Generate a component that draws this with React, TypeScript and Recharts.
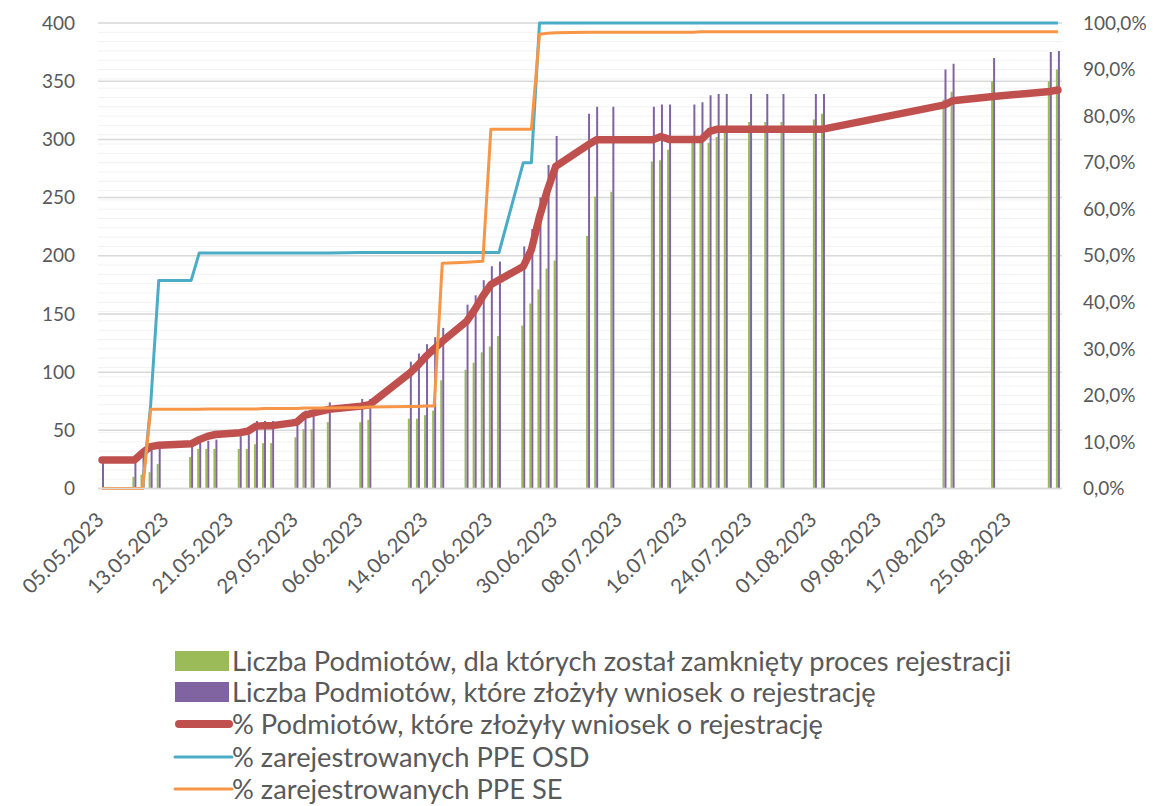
import React from 'react';
import { ComposedChart, Bar, Line, XAxis, YAxis, CartesianGrid } from 'recharts';

const AXIS_START = '05.05.2023';
const AXIS_END = '31.08.2023';

const TICK_LABELS = [
  '05.05.2023', '13.05.2023', '21.05.2023', '29.05.2023', '06.06.2023',
  '14.06.2023', '22.06.2023', '30.06.2023', '08.07.2023', '16.07.2023',
  '24.07.2023', '01.08.2023', '09.08.2023', '17.08.2023', '25.08.2023',
];

const DATES = [
  '05.05.2023', '09.05.2023', '10.05.2023', '11.05.2023', '12.05.2023',
  '16.05.2023', '17.05.2023', '18.05.2023', '19.05.2023', '22.05.2023',
  '23.05.2023', '24.05.2023', '25.05.2023', '26.05.2023', '29.05.2023',
  '30.05.2023', '31.05.2023', '02.06.2023', '06.06.2023', '07.06.2023',
  '12.06.2023', '13.06.2023', '14.06.2023', '15.06.2023', '16.06.2023',
  '19.06.2023', '20.06.2023', '21.06.2023', '22.06.2023', '23.06.2023',
  '26.06.2023', '27.06.2023', '28.06.2023', '29.06.2023', '30.06.2023',
  '04.07.2023', '05.07.2023', '07.07.2023', '12.07.2023', '13.07.2023',
  '14.07.2023', '17.07.2023', '18.07.2023', '19.07.2023', '20.07.2023',
  '21.07.2023', '24.07.2023', '26.07.2023', '28.07.2023', '01.08.2023',
  '02.08.2023', '17.08.2023', '18.08.2023', '23.08.2023', '30.08.2023',
  '31.08.2023',
];

// Liczba Podmiotów, dla których został zamknięty proces rejestracji
const CLOSED = [
  0, 10, 12, 14, 21, 27, 34, 34, 34, 34,
  34, 38, 39, 39, 44, 51, 51, 57, 57, 59,
  60, 60, 63, 67, 93, 102, 108, 117, 122, 131,
  140, 159, 171, 189, 196, 217, 251, 255, 281, 282,
  291, 297, 297, 297, 302, 310, 315, 315, 315, 317,
  322, 334, 341, 350, 350, 360,
];

// Liczba Podmiotów, które złożyły wniosek o rejestrację
const SUBMITTED = [
  22, 25, 28, 35, 36, 37, 40, 41, 42, 45,
  46, 58, 58, 58, 60, 67, 69, 74, 77, 77,
  109, 116, 124, 130, 138, 158, 166, 179, 191, 195,
  208, 223, 250, 278, 303, 322, 328, 328, 328, 330,
  330, 330, 332, 338, 339, 339, 339, 339, 339, 339,
  339, 360, 365, 370, 375, 376,
];

// % Podmiotów, które złożyły wniosek o rejestrację
const PCT_SUBMITTED = [
  6.1, 6.1, 7.7, 9.0, 9.3, 9.6, 10.5, 11.2, 11.6, 12.0,
  12.3, 13.4, 13.5, 13.5, 14.2, 15.7, 16.2, 17.0, 17.7, 18.0,
  24.8, 26.5, 28.4, 30.0, 31.6, 35.9, 38.4, 41.3, 43.8, 44.8,
  47.7, 51.3, 58.4, 64.2, 69.2, 73.8, 74.9, 74.9, 74.9, 75.6,
  75.0, 75.0, 75.0, 76.7, 77.2, 77.2, 77.2, 77.2, 77.2, 77.2,
  77.2, 82.4, 83.3, 84.2, 85.3, 85.6,
];

// % zarejestrowanych PPE OSD
const PCT_OSD = [
  0, 0, 0, 18, 44.7, 44.7, 50.6, 50.6, 50.6, 50.6,
  50.6, 50.6, 50.6, 50.6, 50.6, 50.6, 50.6, 50.6, 50.7, 50.7,
  50.7, 50.7, 50.7, 50.7, 50.7, 50.7, 50.7, 50.7, 50.7, 50.7,
  70.0, 70.0, 100, 100, 100, 100, 100, 100, 100, 100,
  100, 100, 100, 100, 100, 100, 100, 100, 100, 100,
  100, 100, 100, 100, 100, 100,
];

// % zarejestrowanych PPE SE
const PCT_SE = [
  0, 0, 0, 17.0, 17.0, 17.0, 17.0, 17.1, 17.1, 17.1,
  17.1, 17.1, 17.2, 17.2, 17.2, 17.3, 17.3, 17.3, 17.4, 17.5,
  17.6, 17.6, 17.7, 17.7, 48.4, 48.6, 48.7, 48.8, 77.2, 77.2,
  77.2, 77.2, 97.6, 97.8, 97.9, 98.0, 98.0, 98.0, 98.0, 98.0,
  98.0, 98.0, 98.1, 98.1, 98.1, 98.1, 98.1, 98.1, 98.1, 98.1,
  98.1, 98.1, 98.1, 98.1, 98.1, 98.1,
];

const LEFT_TICKS = [0, 50, 100, 150, 200, 250, 300, 350, 400];
const RIGHT_TICKS = Array.from({ length: 51 }, (_, i) => i * 2);

const SERIES_NAMES = [
  'Liczba Podmiotów, dla których został zamknięty proces rejestracji',
  'Liczba Podmiotów, które złożyły wniosek o rejestrację',
  '% Podmiotów, które złożyły wniosek o rejestrację',
  '% zarejestrowanych PPE OSD',
  '% zarejestrowanych PPE SE',
];
const COLORS = ['#9BBB59', '#8064A2', '#C0504D', '#4BACC6', '#F79646'];

const FONT = 'Lato, "Open Sans", sans-serif';
const TEXT = '#595959';

const parse = (s: string) => {
  const [d, m, y] = s.split('.').map(Number);
  return Date.UTC(y, m - 1, d);
};
const START = parse(AXIS_START);
const toDay = (s: string) => Math.round((parse(s) - START) / 86400000);
const END_DAY = toDay(AXIS_END);
const TICK_DAYS = TICK_LABELS.map(toDay);

const data = DATES.map((d, i) => ({
  day: toDay(d),
  date: d,
  closed: CLOSED[i],
  submitted: SUBMITTED[i],
  pctSubmitted: PCT_SUBMITTED[i],
  osd: PCT_OSD[i],
  se: PCT_SE[i],
}));

const XTick = (props: any) => {
  const { x, y, payload } = props;
  const idx = TICK_DAYS.indexOf(payload.value);
  const label = idx >= 0 ? TICK_LABELS[idx] : '';
  const ax = x + 3;
  const ay = y + 32.5;
  return (
    <text
      x={ax}
      y={ay}
      textAnchor="end"
      transform={`rotate(-45 ${ax} ${ay})`}
      fill={TEXT}
      fontSize={20.5}
      fontFamily={FONT}
    >
      {label}
    </text>
  );
};

const rightFmt = (v: number) =>
  Math.round(v) % 10 === 0 ? `${v.toFixed(1).replace('.', ',')}%` : '';

const Legend = () => {
  const centers = [661, 692, 724, 757, 789];
  return (
    <svg
      width={1160}
      height={806}
      style={{ position: 'absolute', left: 0, top: 0, pointerEvents: 'none' }}
    >
      {SERIES_NAMES.map((name, i) => {
        const cy = centers[i];
        let icon;
        if (i < 2) {
          icon = <rect x={175} y={cy - 10} width={54} height={20} fill={COLORS[i]} />;
        } else {
          icon = (
            <line
              x1={i === 2 ? 179 : 175}
              x2={i === 2 ? 229 : 232}
              y1={cy}
              y2={cy}
              stroke={COLORS[i]}
              strokeWidth={i === 2 ? 8 : 3}
              strokeLinecap="round"
            />
          );
        }
        return (
          <g key={name}>
            {icon}
            <text x={232} y={cy + 9.5} fill={TEXT} fontSize={27.3} fontFamily={FONT}>
              {name}
            </text>
          </g>
        );
      })}
    </svg>
  );
};

export default function App() {
  return (
    <div style={{ position: 'absolute', left: 0, top: 0, width: 1160, height: 806, background: '#fff' }}>
      <ComposedChart
        width={1160}
        height={806}
        data={data}
        margin={{ top: 23, right: 0, bottom: 197.5, left: 0 }}
        barGap={0}
      >
        <CartesianGrid yAxisId="right" vertical={false} stroke="#F2F2F2" strokeWidth={1} />
        <CartesianGrid yAxisId="left" vertical={false} stroke="#D9D9D9" strokeWidth={1.5} />
        <XAxis
          type="number"
          dataKey="day"
          domain={[-0.5, END_DAY + 0.5]}
          ticks={TICK_DAYS}
          interval={0}
          tick={<XTick />}
          tickLine={false}
          tickSize={0}
          tickMargin={0}
          axisLine={{ stroke: '#D9D9D9', strokeWidth: 1.5 }}
          height={120}
          allowDataOverflow
        />
        <YAxis
          yAxisId="left"
          orientation="left"
          domain={[0, 400]}
          ticks={LEFT_TICKS}
          interval={0}
          width={98}
          tickSize={0}
          tickMargin={23}
          axisLine={false}
          tickLine={false}
          tick={{ fill: TEXT, fontSize: 19, fontFamily: FONT }}
        />
        <YAxis
          yAxisId="right"
          orientation="right"
          domain={[0, 100]}
          ticks={RIGHT_TICKS}
          interval={0}
          tickFormatter={rightFmt}
          width={98}
          tickSize={0}
          tickMargin={21}
          axisLine={false}
          tickLine={false}
          tick={{ fill: TEXT, fontSize: 19, fontFamily: FONT }}
        />
        <Bar yAxisId="left" dataKey="closed" name={SERIES_NAMES[0]} fill={COLORS[0]} barSize={2} isAnimationActive={false} />
        <Bar yAxisId="left" dataKey="submitted" name={SERIES_NAMES[1]} fill={COLORS[1]} barSize={2} isAnimationActive={false} />
        <Line
          yAxisId="right"
          type="linear"
          dataKey="pctSubmitted"
          name={SERIES_NAMES[2]}
          stroke={COLORS[2]}
          strokeWidth={7.5}
          strokeLinecap="round"
          strokeLinejoin="round"
          dot={false}
          activeDot={false}
          isAnimationActive={false}
        />
        <Line
          yAxisId="right"
          type="linear"
          dataKey="osd"
          name={SERIES_NAMES[3]}
          stroke={COLORS[3]}
          strokeWidth={3}
          strokeLinejoin="round"
          dot={false}
          activeDot={false}
          isAnimationActive={false}
        />
        <Line
          yAxisId="right"
          type="linear"
          dataKey="se"
          name={SERIES_NAMES[4]}
          stroke={COLORS[4]}
          strokeWidth={3}
          strokeLinejoin="round"
          dot={false}
          activeDot={false}
          isAnimationActive={false}
        />
      </ComposedChart>
      <Legend />
    </div>
  );
}
